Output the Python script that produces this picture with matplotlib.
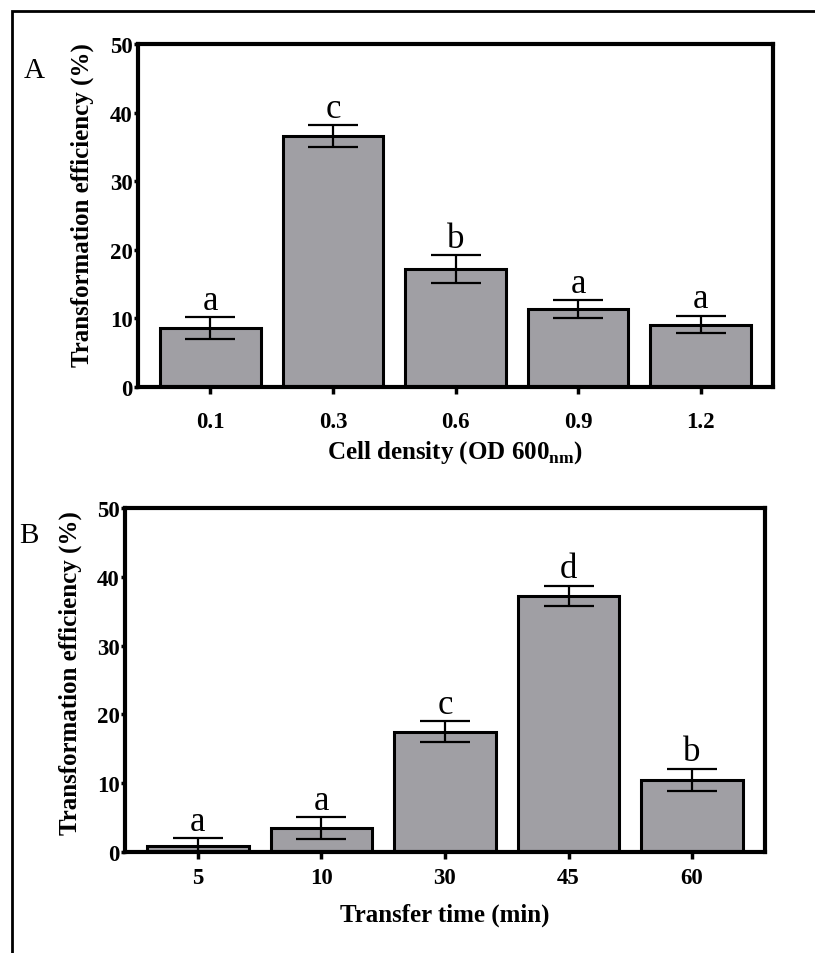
import matplotlib
matplotlib.use('Agg')
import matplotlib.pyplot as plt
from matplotlib.patches import Rectangle
import numpy as np

plt.rcParams['font.family'] = ['Liberation Serif', 'DejaVu Serif']
plt.rcParams['mathtext.fontset'] = 'custom'
plt.rcParams['mathtext.rm'] = 'Liberation Serif'
plt.rcParams['mathtext.bf'] = 'Liberation Serif:bold'

# panel A: cell density
a_labels = ['0.1', '0.3', '0.6', '0.9', '1.2']
a_means = [8.6, 36.6, 17.2, 11.4, 9.1]
a_err = [1.6, 1.6, 2.0, 1.3, 1.3]
a_letters = ['a', 'c', 'b', 'a', 'a']

# panel B: transfer time
b_labels = ['5', '10', '30', '45', '60']
b_means = [0.8, 3.5, 17.5, 37.2, 10.5]
b_err = [1.2, 1.6, 1.5, 1.5, 1.6]
b_letters = ['a', 'a', 'c', 'd', 'b']

W, H = 815, 954
fig = plt.figure(figsize=(W / 100, H / 100), dpi=100)

# outer frame (right and bottom edges fall outside the picture)
fig.patches.append(Rectangle((12 / W, -0.1), 1.2, (H - 12) / H + 0.1,
                             transform=fig.transFigure, fill=False,
                             edgecolor='black', linewidth=2.0))

bar_color = '#a09fa4'


def draw_panel(ax, labels, means, err, letters, xlabel, xpad):
    x = np.arange(len(labels))
    ax.bar(x, means, width=0.82, color=bar_color, edgecolor='black',
           linewidth=2.2, zorder=2)
    ax.errorbar(x, means, yerr=err, fmt='none', ecolor='black',
                elinewidth=1.6, capsize=18, capthick=1.6, zorder=3)
    for xi, m, e, s in zip(x, means, err, letters):
        ax.annotate(s, (xi, m + e), xytext=(0, 6), textcoords='offset points',
                    ha='center', va='baseline', fontsize=25)
    ax.set_xlim(-0.59, 4.59)
    ax.set_ylim(0, 50)
    ax.set_yticks([0, 10, 20, 30, 40, 50])
    ax.set_xticks(x)
    ax.set_xticklabels(labels)
    for sp in ax.spines.values():
        sp.set_linewidth(3.0)
    ax.tick_params(axis='y', direction='out', length=3, width=2.5, pad=1,
                   labelsize=16.5)
    ax.tick_params(axis='x', direction='out', length=5, width=2.5, pad=xpad,
                   labelsize=16.5)
    for t in ax.get_xticklabels() + ax.get_yticklabels():
        t.set_fontweight('bold')
    ax.set_ylabel('Transformation efficiency (%)', fontsize=18,
                  fontweight='bold', va='center')
    ax.set_xlabel(xlabel, fontsize=18, fontweight='bold', va='center')


axA = fig.add_axes([138 / W, 1 - 388 / H, 635 / W, 343 / H])
draw_panel(axA, a_labels, a_means, a_err, a_letters,
           r'Cell density (OD 600$_{\mathbf{nm}}$)', 12)
axA.yaxis.set_label_coords((82 - 138) / 635, (388 - 205) / 343)
axA.xaxis.set_label_coords(0.5, (388 - 453) / 343)

axB = fig.add_axes([125 / W, 1 - 853 / H, 640 / W, 344 / H])
draw_panel(axB, b_labels, b_means, b_err, b_letters,
           'Transfer time (min)', 6)
axB.yaxis.set_label_coords((70 - 125) / 640, (853 - 673) / 344)
axB.xaxis.set_label_coords(0.5, (853 - 915) / 344)

fig.text(34 / W, 1 - 71 / H, 'A', ha='center', va='center', fontsize=21)
fig.text(29 / W, 1 - 536 / H, 'B', ha='center', va='center', fontsize=21)

fig.savefig('out.png', dpi=100)
